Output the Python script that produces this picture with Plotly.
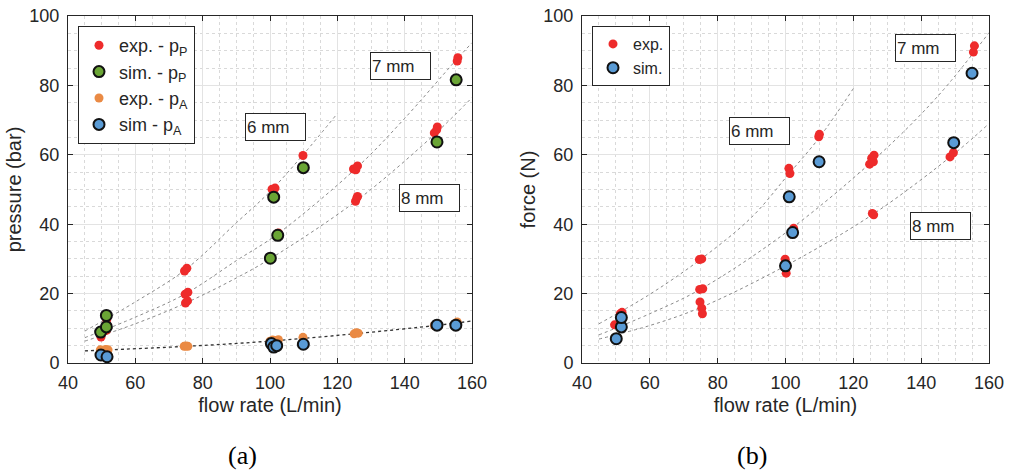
import plotly.graph_objects as go

# ---------------- data: panel (a) pressure ----------------
exp_pP_x = [49.8, 51.4, 51.5, 51.6, 74.6, 75.3, 74.8, 75.6, 74.9, 75.5, 100.6, 101.5, 102.5, 100.0,
            109.8, 124.8, 125.5, 126.0, 125.4, 125.8, 126.0, 148.8, 149.5, 149.7, 155.6, 155.8]
exp_pP_y = [7.5, 9.4, 12.5, 11.0, 26.5, 27.3, 19.8, 20.4, 17.3, 17.9, 50.1, 50.4, 37.5, 30.5,
            59.8, 55.9, 55.7, 56.8, 46.6, 47.6, 48.0, 66.3, 67.2, 68.0, 87.0, 88.0]
sim_pP_x = [49.7, 51.4, 51.4, 101.1, 102.3, 100.1, 109.9, 149.6, 155.3]
sim_pP_y = [8.9, 10.4, 13.7, 47.8, 36.8, 30.2, 56.3, 63.7, 81.6]
exp_pA_x = [49.6, 50.4, 51.2, 51.9, 74.5, 75.0, 75.6, 100.0, 100.8, 101.6, 102.5, 109.8,
            125.0, 125.6, 126.2, 148.8, 155.6]
exp_pA_y = [3.8, 3.7, 3.9, 3.8, 4.8, 4.9, 4.8, 6.3, 6.6, 6.5, 6.7, 7.4,
            8.4, 8.7, 8.6, 10.8, 11.8]
sim_pA_x = [49.8, 51.6, 100.4, 101.1, 102.0, 109.9, 149.6, 155.2]
sim_pA_y = [2.3, 1.8, 5.6, 4.6, 5.0, 5.4, 10.9, 10.9]

fit6_P_x = [45, 60, 75, 90, 100, 110, 120]
fit6_P_y = [9.2, 17.6, 27.0, 40.4, 49.4, 60.2, 71.9]
fit7_P_x = [45, 60, 75, 90, 102, 126, 140, 155, 160]
fit7_P_y = [7.3, 13.2, 20.0, 29.5, 37.0, 56.5, 70.5, 87.0, 92.3]
fit8_P_x = [45, 60, 75, 90, 100, 126, 149, 160]
fit8_P_y = [6.3, 11.3, 17.3, 24.5, 30.0, 47.0, 66.0, 76.5]
fitA_x = [45, 75, 100, 126, 150, 160]
fitA_y = [3.5, 4.8, 6.3, 8.5, 10.9, 12.1]

# ---------------- data: panel (b) force ----------------
exp_F_x = [49.6, 51.3, 51.8, 74.6, 75.3, 74.7, 75.6, 74.8, 75.3, 75.5, 99.9, 100.1, 100.2,
           101.0, 101.3, 102.4, 109.8, 110.0, 124.8, 125.4, 125.9, 126.1, 125.6, 126.0,
           148.5, 149.5, 155.4, 155.7]
exp_F_y = [11.0, 14.2, 14.6, 29.8, 30.0, 21.2, 21.4, 17.6, 15.8, 14.2, 29.9, 28.8, 25.9,
           56.1, 54.6, 38.8, 65.2, 65.9, 57.3, 59.0, 58.0, 59.9, 43.1, 42.7,
           59.4, 60.6, 89.6, 91.4]
sim_F_x = [50.1, 51.6, 51.6, 100.0, 101.1, 102.1, 109.9, 149.6, 155.0]
sim_F_y = [7.0, 10.4, 13.1, 28.0, 47.9, 37.6, 58.0, 63.5, 83.5]

fit6_F_x = [45, 60, 75, 90, 101, 110, 120]
fit6_F_y = [11.3, 19.8, 29.9, 42.0, 54.5, 65.0, 79.1]
fit7_F_x = [45, 60, 75, 100, 126, 145, 160]
fit7_F_y = [8.1, 14.2, 21.3, 37.5, 58.5, 77.0, 95.2]
fit8_F_x = [45, 60, 75, 100, 126, 150, 160]
fit8_F_y = [6.9, 10.8, 16.0, 28.0, 43.0, 60.5, 69.0]

x_ticks = [40, 60, 80, 100, 120, 140, 160]
y_ticks = [0, 20, 40, 60, 80, 100]

# labels for the diameter boxes
labels_a = [("6 mm", 101.5, 68.1), ("7 mm", 138.9, 85.7), ("8 mm", 147.4, 47.5)]
labels_b = [("6 mm", 92.2, 66.9), ("7 mm", 141.4, 90.9), ("8 mm", 145.8, 39.4)]

RED = "#ee2b2b"
GREEN = "#6aa535"
ORANGE = "#ea8a44"
BLUE = "#5a9bd5"
INK = "#262626"
FONT = "Liberation Sans"

fig = go.Figure()

def fit_line(x, y, xa, ya, color="#8a8a8a", width=1):
    fig.add_trace(go.Scatter(x=x, y=y, mode="lines", line=dict(color=color, width=width, dash="dot",
                                                               shape="spline"),
                             xaxis=xa, yaxis=ya, showlegend=False, hoverinfo="skip"))

# panel (a) fits
fit_line(fit6_P_x, fit6_P_y, "x", "y")
fit_line(fit7_P_x, fit7_P_y, "x", "y")
fit_line(fit8_P_x, fit8_P_y, "x", "y")
fit_line(fitA_x, fitA_y, "x", "y", color="#333333", width=1.3)
# panel (b) fits
fit_line(fit6_F_x, fit6_F_y, "x2", "y2")
fit_line(fit7_F_x, fit7_F_y, "x2", "y2")
fit_line(fit8_F_x, fit8_F_y, "x2", "y2")

exp_marker = lambda c: dict(color=c, size=9, line=dict(width=0))
sim_marker = lambda c: dict(color=c, size=11, line=dict(color="#111111", width=2))

fig.add_trace(go.Scatter(x=exp_pP_x, y=exp_pP_y, mode="markers", marker=exp_marker(RED),
                         name="exp. - p<sub>P</sub>", legend="legend", legendgroup="a1", legendrank=1))
fig.add_trace(go.Scatter(x=exp_pA_x, y=exp_pA_y, mode="markers", marker=exp_marker(ORANGE),
                         name="exp. - p<sub>A</sub>", legend="legend", legendgroup="a3", legendrank=3))
fig.add_trace(go.Scatter(x=sim_pP_x, y=sim_pP_y, mode="markers", marker=sim_marker(GREEN),
                         name="sim. - p<sub>P</sub>", legend="legend", legendgroup="a2", legendrank=2))
fig.add_trace(go.Scatter(x=sim_pA_x, y=sim_pA_y, mode="markers", marker=sim_marker(BLUE),
                         name="sim - p<sub>A</sub>", legend="legend", legendgroup="a4", legendrank=4))

fig.add_trace(go.Scatter(x=exp_F_x, y=exp_F_y, mode="markers", marker=exp_marker(RED),
                         name="exp.", legend="legend2", xaxis="x2", yaxis="y2"))
fig.add_trace(go.Scatter(x=sim_F_x, y=sim_F_y, mode="markers", marker=sim_marker(BLUE),
                         name="sim.", legend="legend2", xaxis="x2", yaxis="y2"))

W, H = 1016, 471
L_PLOT = (68, 472)
R_PLOT = (582, 989)
top_px = 16
bot_px = H - 363
plot_h = H - top_px - bot_px

def xax(dom, anchor):
    return dict(domain=[dom[0] / W, dom[1] / W], anchor=anchor, range=[40, 160],
                tickvals=x_ticks, ticks="inside", ticklen=5, tickcolor=INK,
                showline=True, linecolor=INK, linewidth=1, mirror="ticks",
                showgrid=True, gridcolor="#e3e3e3", gridwidth=1, zeroline=False,
                minor=dict(dtick=5, showgrid=True, gridcolor="#d9d9d9", griddash="dot", ticks=""),
                tickfont=dict(family=FONT, size=18, color=INK),
                title=dict(text="flow rate (L/min)", font=dict(family=FONT, size=20, color=INK),
                           standoff=6),
                ticklabelstandoff=3, ticklabeloverflow="allow", automargin=False)

def yax(anchor, title):
    return dict(domain=[0, 1], anchor=anchor, range=[0, 100],
                tickvals=y_ticks, ticks="inside", ticklen=5, tickcolor=INK,
                showline=True, linecolor=INK, linewidth=1, mirror="ticks",
                showgrid=True, gridcolor="#e3e3e3", gridwidth=1, zeroline=False,
                minor=dict(dtick=5, showgrid=True, gridcolor="#d9d9d9", griddash="dot", ticks=""),
                tickfont=dict(family=FONT, size=18, color=INK),
                title=dict(text=title, font=dict(family=FONT, size=20, color=INK), standoff=2),
                ticklabelstandoff=4, ticklabeloverflow="allow", automargin=False)

annotations = []
for (txt, x, y) in labels_a:
    annotations.append(dict(x=x, y=y, xref="x", yref="y", text=txt, showarrow=False,
                            font=dict(family=FONT, size=17, color=INK), align="left",
                            width=57, height=24, borderpad=1, bordercolor=INK, borderwidth=1,
                            bgcolor="white"))
for (txt, x, y) in labels_b:
    annotations.append(dict(x=x, y=y, xref="x2", yref="y2", text=txt, showarrow=False,
                            font=dict(family=FONT, size=17, color=INK), align="left",
                            width=57, height=24, borderpad=1, bordercolor=INK, borderwidth=1,
                            bgcolor="white"))
annotations.append(dict(x=242 / W, y=1 - (455 - top_px) / plot_h, xref="paper", yref="paper",
                        text="(a)", showarrow=False, xanchor="center", yanchor="middle",
                        font=dict(family="Liberation Serif", size=26, color="black")))
annotations.append(dict(x=752 / W, y=1 - (455 - top_px) / plot_h, xref="paper", yref="paper",
                        text="(b)", showarrow=False, xanchor="center", yanchor="middle",
                        font=dict(family="Liberation Serif", size=26, color="black")))

legend_common = dict(bgcolor="white", bordercolor=INK, borderwidth=1,
                     xanchor="left", yanchor="top", itemsizing="trace")

fig.update_layout(
    width=W, height=H,
    margin=dict(l=0, r=0, t=top_px, b=bot_px),
    paper_bgcolor="white", plot_bgcolor="white",
    xaxis=xax(L_PLOT, "y"), yaxis=yax("x", "pressure (bar)"),
    xaxis2=xax(R_PLOT, "y2"), yaxis2=yax("x2", "force (N)"),
    legend=dict(x=78 / W, y=1 - (26 - top_px) / plot_h, traceorder="normal",
                tracegroupgap=2, font=dict(family=FONT, size=18, color=INK), **legend_common),
    legend2=dict(x=592 / W, y=1 - (26 - top_px) / plot_h,
                 font=dict(family=FONT, size=16, color=INK), **legend_common),
    annotations=annotations,
    showlegend=True,
)

fig.write_html("out.html", config={"displayModeBar": False},
               post_script="document.body.style.margin='0px';document.body.style.overflow='hidden';")
